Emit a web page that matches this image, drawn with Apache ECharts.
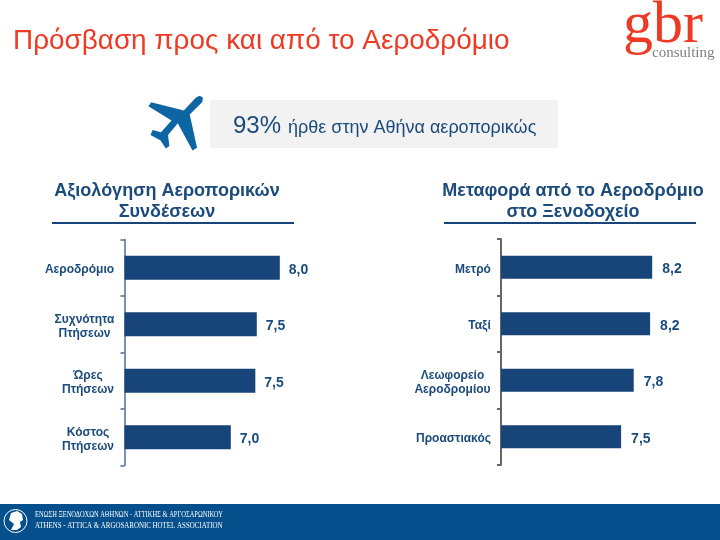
<!DOCTYPE html>
<html>
<head>
<meta charset="utf-8">
<style>
html, body { margin: 0; padding: 0; background: #fff; }
#main { width: 720px; height: 540px; }
</style>
<script src="https://cdn.jsdelivr.net/npm/echarts@6/dist/echarts.min.js"></script>
</head>
<body>
<div id="main"></div>
<script>
var airCategories = ['Αεροδρόμιο', 'Συχνότητα\nΠτήσεων', 'Ώρες\nΠτήσεων', 'Κόστος\nΠτήσεων'];
var airValues = [8.0, 7.53, 7.5, 7.0];
var transferCategories = ['Μετρό', 'Ταξί', 'Λεωφορείο\nΑεροδρομίου', 'Προαστιακός'];
var transferValues = [8.24, 8.19, 7.8, 7.5];

var navy = '#17457A';
var textBlue = '#1B4B7C';
var labelFont = 'bold 12px "Liberation Sans"';

// multi-line labels are centred in their own block, ECharts would right-align each line
var measure = document.createElement('canvas').getContext('2d');
function buildLabels(categories) {
    var rich = {}, texts = {};
    measure.font = labelFont;
    categories.forEach(function (cat, i) {
        var lines = cat.split('\n');
        var w = Math.max.apply(null, lines.map(function (l) { return Math.ceil(measure.measureText(l).width); }));
        rich['w' + i] = { width: w, align: 'center', fontFamily: 'Liberation Sans', fontWeight: 'bold', fontSize: 12, lineHeight: 14, color: textBlue };
        texts[cat] = lines.map(function (l) { return '{w' + i + '|' + l + '}'; }).join('\n');
    });
    return { rich: rich, texts: texts };
}

function yAxisFor(gridIndex, categories, axisColor, axisWidth) {
    var built = buildLabels(categories);
    return {
        type: 'category',
        gridIndex: gridIndex,
        inverse: true,
        data: categories,
        axisLine: { show: true, lineStyle: { color: axisColor, width: axisWidth } },
        axisTick: { show: true, length: 4, lineStyle: { color: axisColor, width: axisWidth } },
        axisLabel: {
            margin: 10,
            align: 'right',
            padding: [4, 0, 0, 0],
            rich: built.rich,
            formatter: function (v) { return built.texts[v]; }
        }
    };
}

function barSeries(axisIndex, values, width, labelGap) {
    return {
        type: 'bar',
        xAxisIndex: axisIndex,
        yAxisIndex: axisIndex,
        barWidth: width,
        data: values,
        itemStyle: { color: navy },
        silent: true,
        label: {
            show: true,
            position: 'right',
            distance: labelGap,
            offset: [0, 2],
            fontFamily: 'Liberation Sans',
            fontWeight: 'bold',
            fontSize: 14,
            color: textBlue,
            formatter: function (p) { return p.value.toFixed(1).replace('.', ','); }
        }
    };
}

var chart = echarts.init(document.getElementById('main'));
chart.setOption({
    animation: false,
    backgroundColor: '#fff',
    title: [
        {
            text: 'Πρόσβαση προς και από το Αεροδρόμιο',
            left: 8, top: 22,
            textStyle: { fontFamily: 'Liberation Sans', fontWeight: 'normal', fontSize: 27.9, color: '#EE3A24' }
        },
        {
            text: 'Αξιολόγηση Αεροπορικών\nΣυνδέσεων',
            left: 162, top: 176, textAlign: 'center',
            textStyle: { fontFamily: 'Liberation Sans', fontWeight: 'bold', fontSize: 18, lineHeight: 21, color: textBlue }
        },
        {
            text: 'Μεταφορά από το Αεροδρόμιο\nστο Ξενοδοχείο',
            left: 568, top: 175.5, textAlign: 'center',
            textStyle: { fontFamily: 'Liberation Sans', fontWeight: 'bold', fontSize: 18, lineHeight: 21, color: textBlue }
        }
    ],
    grid: [
        { left: 124.5, top: 239.5, width: 196, height: 226 },
        { left: 501, top: 239, width: 210, height: 226 }
    ],
    xAxis: [
        { type: 'value', gridIndex: 0, min: 4.83, max: 8.83, show: false },
        { type: 'value', gridIndex: 1, min: 4.64, max: 9.64, show: false }
    ],
    yAxis: [
        yAxisFor(0, airCategories, '#4F6F96', 1.5),
        yAxisFor(1, transferCategories, '#666666', 2)
    ],
    series: [
        barSeries(0, airValues, 24, 9),
        barSeries(1, transferValues, 23, 10)
    ],
    graphic: [
        // heading rules
        { type: 'rect', shape: { x: 52, y: 222, width: 242, height: 2 }, style: { fill: navy } },
        { type: 'rect', shape: { x: 444, y: 222, width: 252, height: 2 }, style: { fill: navy } },
        // 93% box
        { type: 'rect', shape: { x: 210, y: 100, width: 348, height: 48 }, style: { fill: '#F2F2F2' } },
        { type: 'text', x: 233, y: 126, style: { text: '93%', font: '24px "Liberation Sans"', fill: textBlue, textVerticalAlign: 'middle' } },
        { type: 'text', x: 288, y: 128, style: { text: 'ήρθε στην Αθήνα αεροπορικώς', font: '18px "Liberation Sans"', fill: textBlue, textVerticalAlign: 'middle' } },
        // plane
        {
            type: 'polygon', x: 140, y: 90, scaleX: 0.35, scaleY: 0.34,
            shape: { points: [[170, 17], [180, 22], [178, 35], [142, 72], [163, 170], [150, 178], [108, 98], [80, 132], [84, 165], [74, 172], [58, 148], [30, 132], [36, 118], [60, 124], [90, 90], [24, 48], [32, 36], [125, 60], [160, 22]] },
            style: { fill: '#0D66A3' }
        },
        // logo
        { type: 'text', x: 623, y: 56, style: { text: 'gbr', font: '60px "Liberation Serif"', fill: '#EE3A24', textVerticalAlign: 'bottom' } },
        { type: 'text', x: 652, y: 53, style: { text: 'consulting', font: '15px "Liberation Serif"', fill: '#808080', textVerticalAlign: 'middle' } },
        // footer band
        { type: 'rect', shape: { x: 0, y: 504, width: 720, height: 36 }, style: { fill: '#05508C' } },
        { type: 'circle', shape: { cx: 15.5, cy: 521, r: 11.5 }, style: { fill: 'none', stroke: '#fff', lineWidth: 1 } },
        {
            type: 'polygon',
            shape: { points: [[11, 513], [17, 511], [22, 514], [23, 520], [20, 522], [21, 527], [17, 530], [11, 530], [14, 524], [9, 520]] },
            style: { fill: '#fff' }
        },
        { type: 'text', x: 35, y: 515, scaleX: 0.81, style: { text: 'ΕΝΩΣΗ ΞΕΝΟΔΟΧΩΝ ΑΘΗΝΩΝ - ΑΤΤΙΚΗΣ & ΑΡΓΟΣΑΡΩΝΙΚΟΥ', font: '8px "Liberation Serif"', fill: '#fff', textVerticalAlign: 'middle' } },
        { type: 'text', x: 35, y: 525.5, scaleX: 0.866, style: { text: 'ATHENS - ATTICA & ARGOSARONIC HOTEL ASSOCIATION', font: '8px "Liberation Serif"', fill: '#fff', textVerticalAlign: 'middle' } }
    ]
});
</script>
</body>
</html>
